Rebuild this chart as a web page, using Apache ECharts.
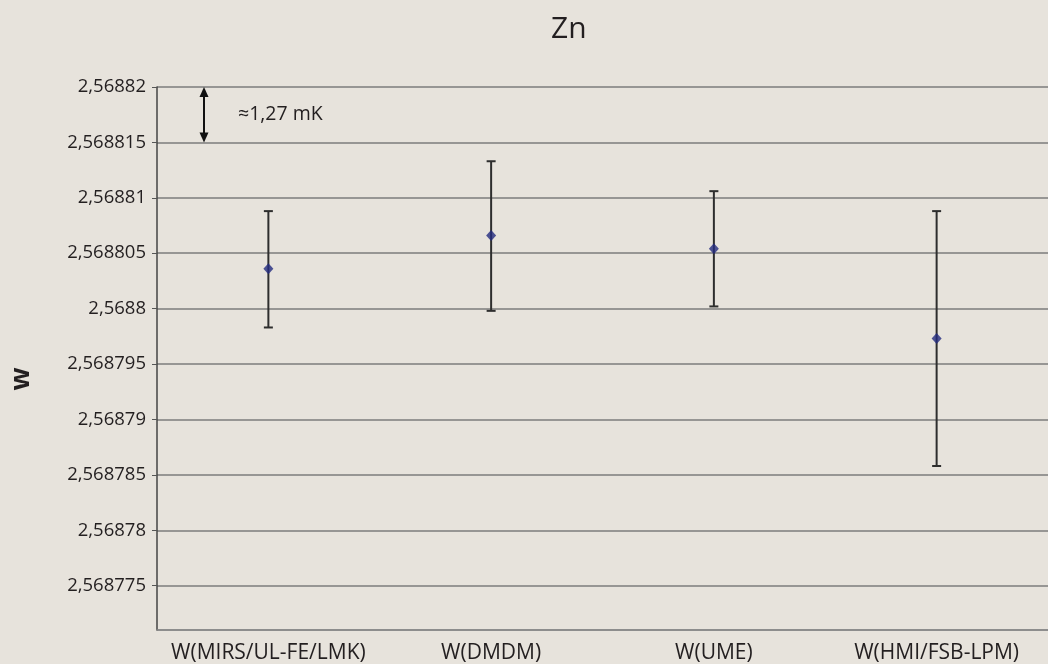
<!DOCTYPE html>
<html>
<head>
<meta charset="utf-8">
<script src="https://cdn.jsdelivr.net/npm/echarts@6/dist/echarts.min.js"></script>
<style>
html,body{margin:0;padding:0;background:#e7e3dc;}
#c{width:1048px;height:664px;}
</style>
</head>
<body>
<div id="c"></div>
<script>
const categories = ['W(MIRS/UL-FE/LMK)', 'W(DMDM)', 'W(UME)', 'W(HMI/FSB-LPM)'];
const values = [2.5688036, 2.5688066, 2.5688054, 2.5687973];
const errLow = [2.5687983, 2.5687998, 2.5688002, 2.5687858];
const errHigh = [2.5688088, 2.5688133, 2.5688106, 2.5688088];
const yMin = 2.568771;
const yMax = 2.56882;
const annotTop = 2.56882;
const annotBottom = 2.568815;
const annotText = '\u22481,27 mK';

const FONT = '"Open Sans", "Noto Sans", sans-serif';
const TXT = '#231f20';

function fmt(v) {
  let s = v.toFixed(6).replace(/0+$/, '').replace(/\.$/, '');
  return s.replace('.', ',');
}

const chart = echarts.init(document.getElementById('c'), null, {renderer: 'canvas'});
chart.setOption({
  backgroundColor: '#e7e3dc',
  animation: false,
  title: {
    text: 'Zn',
    left: 546, top: 9,
    textStyle: {fontFamily: FONT, fontSize: 30, fontWeight: 'normal', color: TXT}
  },
  grid: {left: 157, top: 87, width: 898, height: 543, containLabel: false},
  xAxis: {
    type: 'category',
    data: categories,
    boundaryGap: true,
    axisLine: {lineStyle: {color: '#8a8a8a', width: 1.5}},
    axisTick: {show: false},
    axisLabel: {fontFamily: FONT, fontSize: 21, color: TXT, margin: 13, interval: 0},
    splitLine: {show: false}
  },
  yAxis: {
    type: 'value',
    min: yMin, max: yMax,
    splitNumber: 10,
    scale: true,
    axisLine: {show: true, lineStyle: {color: '#444', width: 1.5}},
    axisTick: {show: true, inside: false, length: 5, lineStyle: {color: '#555'}},
    axisLabel: {
      fontFamily: FONT, fontSize: 18.5, color: TXT, margin: 11,
      showMinLabel: false,
      formatter: function (v) { return Math.abs(v - yMin) < 1e-9 ? '' : fmt(v); }
    },
    splitLine: {show: true, lineStyle: {color: '#7c7c7c', width: 1.5}}
  },
  graphic: [{
    type: 'text',
    x: 21, y: 379,
    rotation: Math.PI / 2,
    style: {text: 'w', fontFamily: FONT, fontSize: 27, fontWeight: 'bold', fill: TXT, textAlign: 'center', textVerticalAlign: 'middle'}
  }],
  series: [
    {
      type: 'custom',
      name: 'err',
      data: categories.map((c, i) => [i, errLow[i], errHigh[i]]),
      renderItem: function (params, api) {
        const lo = api.coord([api.value(0), api.value(1)]);
        const hi = api.coord([api.value(0), api.value(2)]);
        const hw = 4.5;
        const st = {stroke: '#2e2e2e', lineWidth: 2};
        return {
          type: 'group',
          children: [
            {type: 'line', shape: {x1: hi[0], y1: hi[1], x2: lo[0], y2: lo[1]}, style: st},
            {type: 'line', shape: {x1: hi[0] - hw, y1: hi[1], x2: hi[0] + hw, y2: hi[1]}, style: st},
            {type: 'line', shape: {x1: lo[0] - hw, y1: lo[1], x2: lo[0] + hw, y2: lo[1]}, style: st}
          ]
        };
      },
      z: 3
    },
    {
      type: 'scatter',
      data: categories.map((c, i) => [i, values[i]]),
      symbol: 'diamond',
      symbolSize: [10, 11],
      itemStyle: {color: '#232a80'},
      z: 4
    },
    {
      type: 'custom',
      name: 'annot',
      data: [[0, annotBottom, annotTop]],
      renderItem: function (params, api) {
        const cs = params.coordSys;
        const top = api.coord([0, api.value(2)]);
        const bot = api.coord([0, api.value(1)]);
        const x = cs.x + 47;
        const ah = 9, aw = 4.5;
        return {
          type: 'group',
          children: [
            {type: 'line', shape: {x1: x, y1: top[1] + ah, x2: x, y2: bot[1] - ah}, style: {stroke: '#111', lineWidth: 2}},
            {type: 'polygon', shape: {points: [[x, top[1]], [x - aw, top[1] + ah + 1], [x + aw, top[1] + ah + 1]]}, style: {fill: '#111'}},
            {type: 'polygon', shape: {points: [[x, bot[1]], [x - aw, bot[1] - ah - 1], [x + aw, bot[1] - ah - 1]]}, style: {fill: '#111'}},
            {type: 'text', x: x + 34, y: (top[1] + bot[1]) / 2,
             style: {text: annotText, fontFamily: FONT, fontSize: 19.5, fill: TXT, textAlign: 'left', textVerticalAlign: 'middle'}}
          ]
        };
      },
      z: 5
    }
  ]
});
</script>
</body>
</html>
